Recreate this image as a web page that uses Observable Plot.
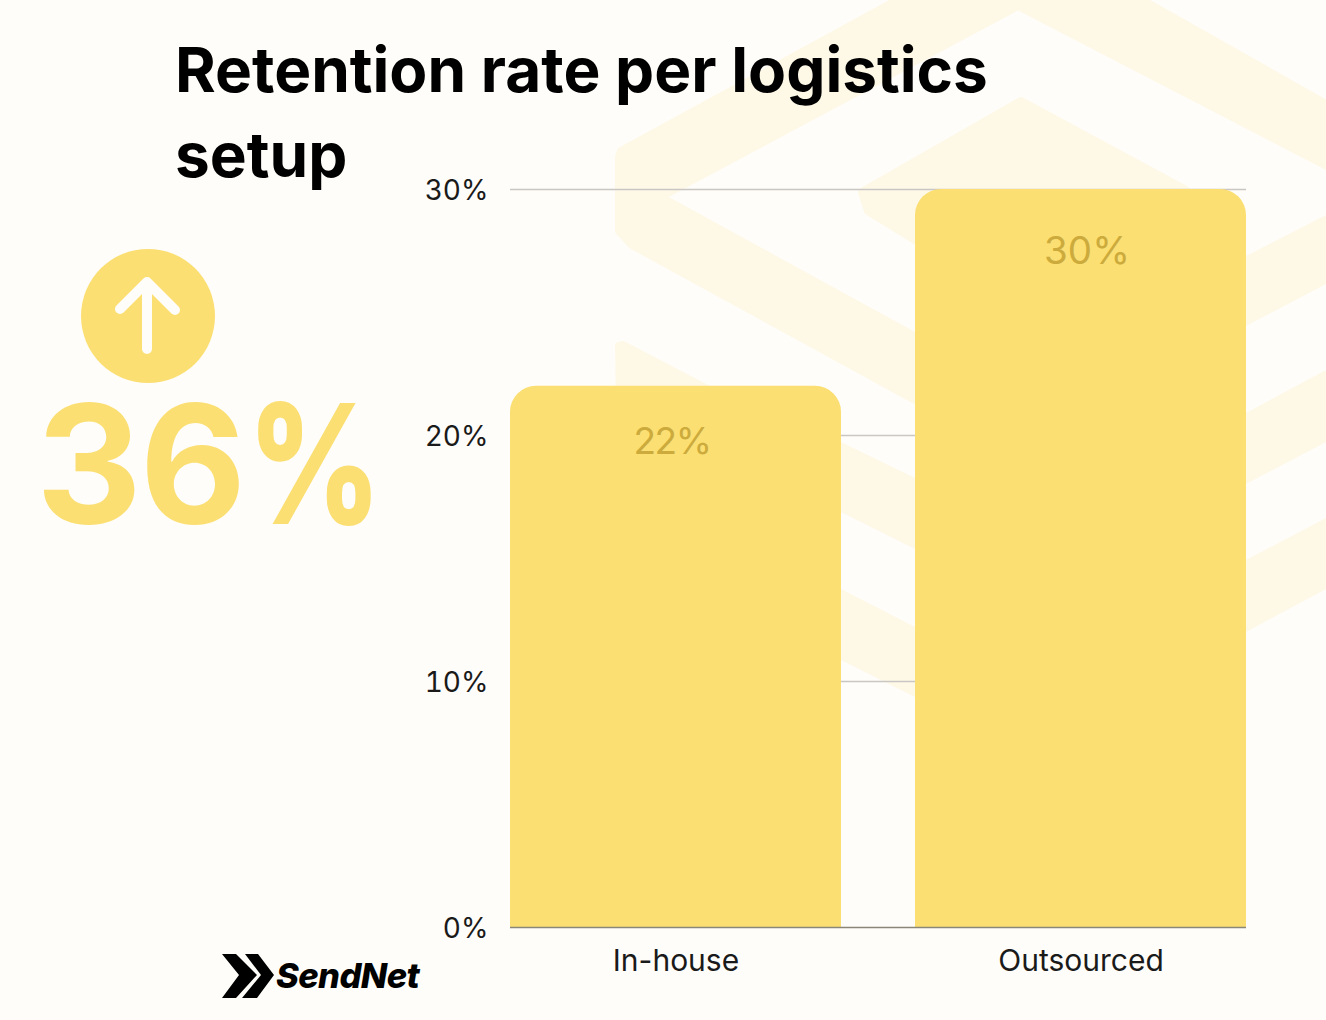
<!DOCTYPE html>
<html><head><meta charset="utf-8">
<script src="https://cdn.jsdelivr.net/npm/d3@7"></script>
<script src="https://cdn.jsdelivr.net/npm/@observablehq/plot@0.6"></script>
<style>
html,body{margin:0;padding:0;background:#FFFDF9;}
#page{position:relative;width:1326px;height:1020px;overflow:hidden;background:#FFFDF9;font-family:Inter,sans-serif;}
#page>*{position:absolute;left:0;top:0;}
#title{left:175px;top:27px;font:700 62.1px/85px Inter,sans-serif;color:#000;margin:0;white-space:nowrap;}
#title span{display:block;width:fit-content;}
#big{left:36px;top:366px;font:700 164px/1.2 Inter,sans-serif;color:#FBDF73;white-space:nowrap;letter-spacing:-2px;}
#big span{display:inline-block;transform:scaleX(.81);transform-origin:left center;margin-left:3px;-webkit-text-stroke:2px #FBDF73;}
#logo{left:276px;top:954px;font:italic 800 34.5px/44px Inter,sans-serif;color:#000;letter-spacing:-.6px;}
.tight text{letter-spacing:-1.5px;}
</style></head><body>
<div id="page">
<svg id="bg" width="1326" height="1020">
  <g fill="#FEF8E7" stroke="#FEF8E7" stroke-width="8" stroke-linejoin="round">
    <path d="M905,-4L621,151L619,157V231L632,245L915,400V336.6L660.5,197L1018,6L1326,165.5V104L1135,-4Z"/>
    <path d="M862,192L1021,101L1186,190L1186,240L915,240L868,211Z"/>
    <path d="M619,346L623,345L734,403L620,403Z"/>
  </g>
  <g fill="#FEF8E7">
    <path d="M1246,256L1326,215V284L1246,326Z"/>
    <path d="M1246,413L1326,370V442L1246,484Z"/>
    <path d="M1246,560L1326,518V589L1246,632Z"/>
    <path d="M841,442L915,478V549L841,512Z"/>
    <path d="M841,589L915,627V697L841,660Z"/>
  </g>
</svg>
<div id="chart"></div>
<h1 id="title"><span>Retention rate per logistics</span><span>setup</span></h1>
<svg id="icon" width="1326" height="1020" style="pointer-events:none">
  <circle cx="148" cy="316" r="67" fill="#FBDF73"/>
  <path d="M147,349V282M120,309L147,282L175,310" fill="none" stroke="#FFFDF9" stroke-width="10" stroke-linecap="round" stroke-linejoin="round"/>
  <path d="M222,954H236L257,975L236,998H222L239,975Z M245,954H258L274,975L257,998H242L261,975Z" fill="#000"/>
</svg>
<div id="big">36<span>%</span></div>
<div id="logo">SendNet</div>
</div>
<script>
const categories = ["In-house", "Outsourced"];
const retention = [22, 30];
const valueLabels = ["22%", "30%"];
const yTicks = [0, 10, 20, 30];
const rows = categories.map((c, i) => ({category: c, value: retention[i], label: valueLabels[i]}));
const ink = "#1a1a1a";
const chart = Plot.plot({
  width: 1326, height: 1020,
  marginTop: 189, marginBottom: 93, marginLeft: 510, marginRight: 80,
  style: {background: "transparent", fontFamily: "Inter, sans-serif", color: ink},
  x: {type: "band", domain: categories, paddingInner: 0.183, paddingOuter: 0, label: null},
  y: {domain: [0, 30], label: null},
  marks: [
    Plot.ruleY(yTicks.slice(1), {stroke: "#C9C7C3", strokeWidth: 1.3}),
    Plot.barY(rows, {x: "category", y: "value", fill: "#FBDF73", rx1y1: 26, rx2y1: 26, rx1y2: 0, rx2y2: 0}),
    Plot.ruleY([0], {stroke: "#8A8778", strokeWidth: 1.3}),
    Plot.text(rows.slice(0, 1), {x: "category", y: "value", text: "label", dy: 56, dx: -4, fill: "#CCAB3C", fontSize: 37, className: "tight"}),
    Plot.text(rows.slice(1), {x: "category", y: "value", text: "label", dy: 62, dx: 6, fill: "#CCAB3C", fontSize: 38.5}),
    Plot.axisY({ticks: yTicks, tickFormat: d => d + "%", tickSize: 0, tickPadding: 22, fontSize: 28, dy: 2, label: null}),
    Plot.axisX({tickSize: 0, tickPadding: 22, fontSize: 30, label: null, lineWidth: 20})
  ]
});
document.getElementById("chart").append(chart);
</script>
</body></html>
